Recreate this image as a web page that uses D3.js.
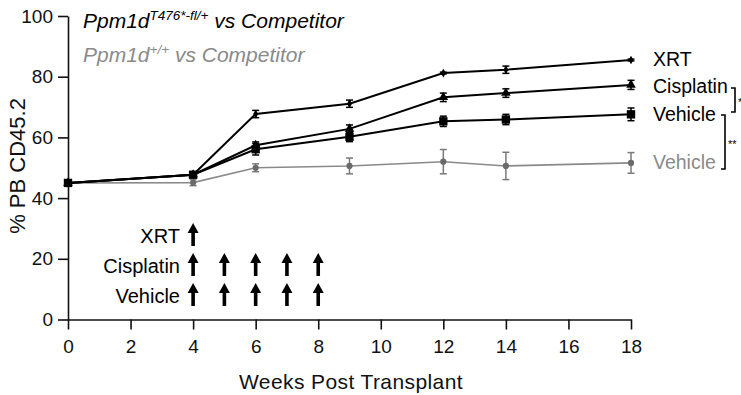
<!DOCTYPE html>
<html>
<head>
<meta charset="utf-8">
<script src="https://cdn.jsdelivr.net/npm/d3@7"></script>
<style>
  html, body { margin: 0; padding: 0; background: #fff; }
  svg { display: block; font-family: "Liberation Sans", Arial, Helvetica, sans-serif; }
</style>
</head>
<body>
<svg id="chart" width="741" height="395"></svg>
<script>
// Sampling weeks after transplant
const weeks = [0, 4, 6, 9, 12, 14, 18];

// Ppm1d T476*-fl/+ vs competitor: mean and SEM of % PB CD45.2
const xrtMean = [45, 47.7, 67.7, 71.1, 81.2, 82.3, 85.5];
const xrtSem  = [0, 0.5, 1.2, 1.2, 0.3, 1.2, 0.3];
const cisMean = [45, 47.7, 57.4, 62.8, 73.2, 74.6, 77.3];
const cisSem  = [0, 0.5, 1.1, 1.3, 1.4, 1.4, 1.5];
const vehMean = [45, 47.7, 56.1, 60.2, 65.3, 65.9, 67.6];
const vehSem  = [0, 0.5, 1.9, 1.6, 1.7, 1.7, 2.1];

// Ppm1d +/+ vs competitor, vehicle
const wtMean = [45, 45.1, 50.0, 50.6, 52.0, 50.6, 51.6];
const wtSem  = [0, 1.0, 1.3, 2.6, 4.0, 4.5, 3.4];

// Treatment schedule (week of each dose)
const xrtDoses = [4];
const cisDoses = [4, 5, 6, 7, 8];
const vehDoses = [4, 5, 6, 7, 8];

// Axis ticks
const xTicks = [0, 2, 4, 6, 8, 10, 12, 14, 16, 18];
const yTicks = [0, 20, 40, 60, 80, 100];

const svg = d3.select("#chart");
const x = d3.scaleLinear().domain([0, 18]).range([68, 631]);
const y = d3.scaleLinear().domain([0, 100]).range([319.5, 16]);

const GRAY = "#8a8a8a";

// Axes
const yAxis = svg.append("g").attr("transform", "translate(68,0)")
  .call(d3.axisLeft(y).tickValues(yTicks).tickSize(10).tickSizeOuter(0).tickPadding(5));
const xAxis = svg.append("g").attr("transform", "translate(0,319.5)")
  .call(d3.axisBottom(x).tickValues(xTicks).tickSize(10).tickSizeOuter(0).tickPadding(10));
[yAxis, xAxis].forEach(g => {
  g.selectAll("path, line").attr("stroke", "#111").attr("stroke-width", 1.6);
  g.selectAll("text").attr("font-size", 19).attr("fill", "#111")
    .attr("font-family", "Liberation Sans, Arial, sans-serif");
});

// Axis titles
svg.append("text")
  .attr("x", 351).attr("y", 389)
  .attr("text-anchor", "middle").attr("font-size", 21).attr("fill", "#111")
  .attr("letter-spacing", 0.4)
  .text("Weeks Post Transplant");
svg.append("text")
  .attr("transform", "translate(25,166) rotate(-90)")
  .attr("text-anchor", "middle").attr("font-size", 22).attr("fill", "#111")
  .text("% PB CD45.2");

// Series
const series = [
  { mean: wtMean, sem: wtSem, color: GRAY, lw: 1.6, marker: "circle", msize: 30, mcolor: "#6a6a6a" },
  { mean: xrtMean, sem: xrtSem, color: "#000", lw: 2, marker: "diamond", msize: 22, mcolor: "#000" },
  { mean: cisMean, sem: cisSem, color: "#000", lw: 2, marker: "triangle", msize: 40, mcolor: "#000" },
  { mean: vehMean, sem: vehSem, color: "#000", lw: 2, marker: "square", msize: 70, mcolor: "#000" }
];
const symbols = {
  circle: d3.symbolCircle, diamond: d3.symbolDiamond,
  triangle: d3.symbolTriangle, square: d3.symbolSquare
};
const line = d3.line().x(d => x(d.w)).y(d => y(d.m));

series.forEach(s => {
  const pts = weeks.map((w, i) => ({ w, m: s.mean[i], e: s.sem[i] }));
  const g = svg.append("g");
  g.append("path").datum(pts)
    .attr("d", line).attr("fill", "none")
    .attr("stroke", s.color).attr("stroke-width", s.lw);
  // Error bars with caps
  const eb = g.selectAll(".eb").data(pts.filter(p => p.e > 0)).join("g")
    .attr("stroke", s.color === "#000" ? "#000" : "#7a7a7a").attr("stroke-width", 1.5);
  eb.append("line")
    .attr("x1", p => x(p.w)).attr("x2", p => x(p.w))
    .attr("y1", p => y(p.m - p.e)).attr("y2", p => y(p.m + p.e));
  eb.append("line")
    .attr("x1", p => x(p.w) - 3.5).attr("x2", p => x(p.w) + 3.5)
    .attr("y1", p => y(p.m + p.e)).attr("y2", p => y(p.m + p.e));
  eb.append("line")
    .attr("x1", p => x(p.w) - 3.5).attr("x2", p => x(p.w) + 3.5)
    .attr("y1", p => y(p.m - p.e)).attr("y2", p => y(p.m - p.e));
  g.selectAll(".pt").data(pts).join("path")
    .attr("transform", p => `translate(${x(p.w)},${y(p.m)})`)
    .attr("d", d3.symbol().type(symbols[s.marker]).size(s.msize))
    .attr("fill", s.mcolor);
});

// Legend
const leg1 = svg.append("text").attr("x", 83).attr("y", 28)
  .attr("font-size", 21).attr("font-style", "italic").attr("fill", "#000");
leg1.append("tspan").text("Ppm1d");
leg1.append("tspan").attr("font-size", 13.5).attr("dy", -8).text("T476*-fl/+");
leg1.append("tspan").attr("dy", 8).text(" vs Competitor");

const leg2 = svg.append("text").attr("x", 83).attr("y", 62)
  .attr("font-size", 21).attr("font-style", "italic").attr("fill", GRAY);
leg2.append("tspan").text("Ppm1d");
leg2.append("tspan").attr("font-size", 13.5).attr("dy", -8).text("+/+");
leg2.append("tspan").attr("dy", 8).text(" vs Competitor");

// Series labels at the right end
const endLabels = [
  { text: "XRT", y: 66, color: "#000" },
  { text: "Cisplatin", y: 93, color: "#000" },
  { text: "Vehicle", y: 121, color: "#000" },
  { text: "Vehicle", y: 169, color: GRAY }
];
svg.selectAll(".endlab").data(endLabels).join("text")
  .attr("x", 653).attr("y", d => d.y)
  .attr("font-size", 19.5).attr("fill", d => d.color)
  .text(d => d.text);

// Significance brackets
const bracket = (bx, y0, y1) =>
  `M${bx - 4},${y0}H${bx}V${y1}H${bx - 4}`;
svg.append("path").attr("d", bracket(735, 88, 112))
  .attr("fill", "none").attr("stroke", "#000").attr("stroke-width", 1.6);
svg.append("text").attr("x", 738).attr("y", 106).attr("font-size", 11).attr("fill", "#000").text("*");
svg.append("path").attr("d", bracket(725, 115, 169))
  .attr("fill", "none").attr("stroke", "#000").attr("stroke-width", 1.6);
svg.append("text").attr("x", 728).attr("y", 148).attr("font-size", 11).attr("fill", "#000").text("**");

// Treatment schedule arrows
const rows = [
  { label: "XRT", doses: xrtDoses, base: 243 },
  { label: "Cisplatin", doses: cisDoses, base: 273 },
  { label: "Vehicle", doses: vehDoses, base: 303 }
];
const arrow = (cx, tip, len) => {
  const hw = 5.5, hh = 10, sw = 1.8;
  return `M${cx},${tip}L${cx + hw},${tip + hh}H${cx + sw}V${tip + len}H${cx - sw}V${tip + hh}H${cx - hw}Z`;
};
rows.forEach(r => {
  svg.append("text").attr("x", 180).attr("y", r.base)
    .attr("text-anchor", "end").attr("font-size", 20).attr("fill", "#000")
    .text(r.label);
  svg.selectAll(null).data(r.doses).join("path")
    .attr("d", w => arrow(x(w), r.base - 20, 23))
    .attr("fill", "#000");
});
</script>
</body>
</html>
